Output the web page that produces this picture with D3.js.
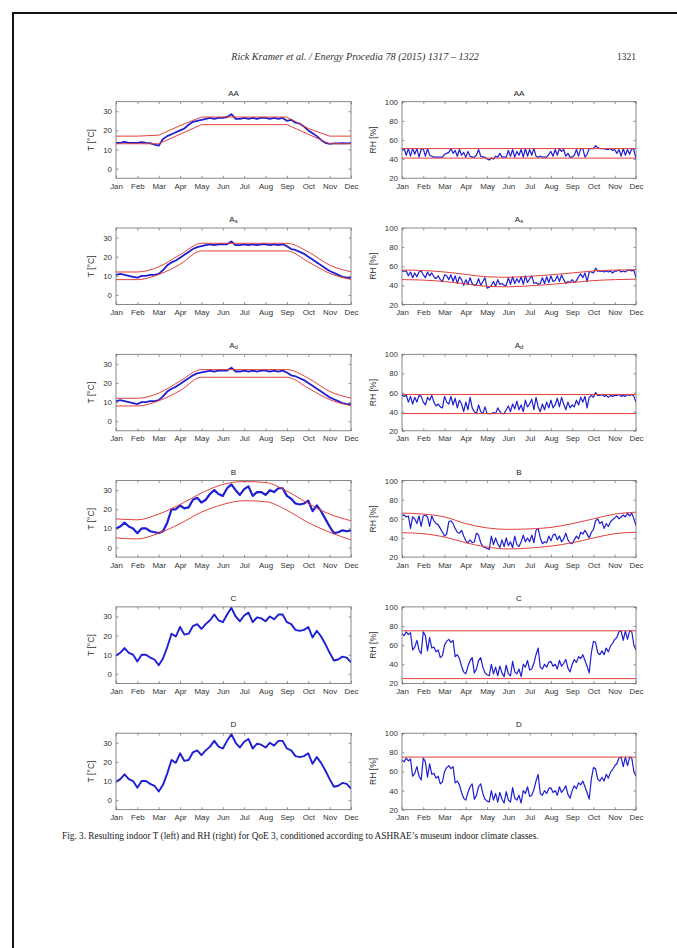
<!DOCTYPE html>
<html><head><meta charset="utf-8">
<script src="https://cdn.jsdelivr.net/npm/d3@7/dist/d3.min.js"></script>
<style>body{margin:0;background:#fff}svg{display:block}</style>
</head><body>
<svg id="c" width="677" height="948"></svg>
<script>
// ---------- tick labels ----------
const months = ["Jan","Feb","Mar","Apr","May","Jun","Jul","Aug","Sep","Oct","Nov","Dec"];
const tTicks = [0,10,20,30];
const rhTicks = [20,40,60,80,100];

// ---------- indoor temperature series (Jan..Dec, evenly spaced) ----------
const aaT = [13.5,13.5,14,13.5,13.5,13.5,13.8,13.5,13.3,12.5, 12,15.5,17,18,19,20,21,23,24.5,25,
  25.5,26,26.5,26,26.5,26.5,27,28.5,26,26, 26.5,26,26.5,26,26.5,26.5,26,26.5,26,26.5,
  25,25.5,24,23.5,22,20,18.5,17,15,13.5, 13,13.2,13.2,13.3,13.2,13.3];
const asT = [10.5,11,10.5,10,9.5,9,10,10,10.5,10.5, 11,13,15.5,17,18,19.5,21,22.5,24,25,
  25.5,26,26.5,26,26.5,26.5,26.5,28,26,26, 26.5,26,26.5,26,26.5,26.5,26,26.5,26,26.5,
  25.5,24,23.5,22.5,21.5,20,18.5,17,15.5,14, 12.5,11.5,10.5,9.5,9,9];
const bT = [10,11,13,11,10,7.5,10,10,8.5,8, 7.5,8.5,13,20,20,22,20.5,21,25,26,
  23.5,25,28,30,28,27,31,33,30,27.5, 30.5,32,27,29,29,27.5,30,29,31,31,
  27,25.5,23,22.5,23,24.5,19,22,19,15, 11,7.5,8,9,8.5,9];
const cT = [9.5,11,13.5,11,10,6.5,10,10,8.5,7.5, 4.5,8,14,21,19.5,24.5,20.5,21,25,26,
  23.5,26,28,31,28,27,31,34.5,30,27.5, 30.5,32,27,29.5,29,27.5,30,28.5,31,31,
  27,26,23,22.5,23,24.5,19,22.5,19.5,15.5, 11,7,7.5,9,8.5,6];

// ---------- indoor relative humidity series ----------
const aaRH = [49,51,44,51,43,51,45,51,42,50, 51,43,51,44,43,42,42,42,42,42,
  45,46,47,51,46,49,43,50,44,47, 42,48,43,42,42,44,50,43,42,42,
  40,39,41,40,43,42,46,42,42,42, 49,43,50,42,48,44,50,42,51,43,
  50,44,51,43,42,43,42,42,42,45, 48,43,50,44,51,48,50,43,46,42,
  42,44,50,43,51,51,42,45,51,51, 51,54,52,51,51,51,50,50,51,49,
  50,46,50,43,51,44,50,45,51,50,40];
const asRH = [55,55,55,50,54,48,53,49,54,55, 51,48,54,50,53,49,47,50,46,44,
  51,50,46,51,44,50,42,49,46,40, 46,41,48,42,40,41,47,40,44,48,
  37,38,40,44,39,46,41,42,40,40, 48,41,49,42,47,43,49,41,50,43,
  47,50,42,43,41,42,48,42,49,43, 50,44,45,50,44,51,46,42,44,43,
  46,43,45,49,52,48,53,44,54,54, 53,58,55,55,55,54,55,54,55,53,
  55,55,56,54,55,54,56,56,55,56,48];
const adRH = [57,56,57,50,56,48,55,50,57,56, 50,47,55,52,57,50,46,48,45,44,
  56,50,48,56,47,54,44,52,48,40, 50,42,55,44,40,38,47,40,38,45,
  38,38,38,39,38,44,40,38,38,42, 46,40,48,43,51,42,47,40,52,45,
  48,53,42,55,45,40,48,42,50,44, 52,44,47,54,45,55,48,42,50,44,
  47,45,52,47,55,50,56,44,55,57, 55,60,57,57,58,56,57,55,57,56,
  57,57,58,56,57,56,58,57,58,56,50];
const bRH = [64,64,62,63,50,62,60,55,63,52, 63,64,62,52,63,58,55,54,50,46,
  42,44,57,58,55,50,46,45,48,42, 37,35,38,35,36,45,43,35,31,30,
  29,28,42,33,40,34,30,38,31,40, 32,36,30,42,33,31,36,43,36,40,
  36,43,35,48,50,40,34,36,35,42, 37,43,44,38,42,36,39,45,38,35,
  34,38,42,39,46,44,48,44,40,46, 49,58,60,55,57,50,55,52,57,59,
  61,63,60,62,64,62,66,63,66,60,53];
const cRH = [72,70,74,71,73,55,58,65,55,51, 74,70,54,68,57,58,53,55,47,49,
  60,64,66,63,65,48,50,46,38,32, 30,38,44,47,31,35,44,47,37,31,
  29,28,40,30,37,28,38,31,27,39, 30,28,43,32,30,35,27,40,37,44,
  34,35,41,50,57,37,35,40,37,42, 43,38,40,35,44,38,41,45,36,32,
  40,45,42,48,46,50,44,38,31,52, 64,63,52,50,54,50,57,53,59,62,
  66,68,74,75,65,75,66,75,74,60,55];

// ---------- ASHRAE class limits (knots evenly spaced Jan..Dec) ----------
const aaTLo = [13,13,13,18,23,23,23,23,23,18,13,13];
const aaTHi = [17,17,17.5,22.5,27,27,27,27,27,21,17,17];
const asTLo = [8,8,10.7,16,23,23,23,23,23,17.3,11.3,8.1];
const asTHi = [12,12,14.7,21,27,27,27,27,27,22.5,15.6,12.1];
const bTLo = [5,4.5,7.5,12.5,18.5,22.5,24.5,24,19.5,13,8,4];
const bTHi = [15,14.5,17.5,22.5,28.5,33,34.5,34,29.5,23,17.5,14];
const aaRHHi = [51,51], aaRHLo = [41,41];
const asRHHi = [56,55.5,54,51.5,49,48.5,49.5,51,53,55,56,56.5];
const asRHLo = [46,45.5,44,41.5,39,38.5,39.5,41,43,45,46,46.5];
const adRHHi = [58,58], adRHLo = [38,38];
const bRHHi = [66,65,62,55,50.5,49,49.5,51,55,60,65,67];
const bRHLo = [45.5,44.5,41,35,30.5,28.5,29.5,31.5,35,40,44.5,46];
const cRHHi = [75,75], cRHLo = [25,25];
const dRHHi = [75,75];

const titles = [["A","A"],["A","s"],["A","d"],["B",""],["C",""],["D",""]];

// ---------- panel table ----------
const TD = [-5,35], RD = [20,100];
const lin = d3.curveLinear, smooth = d3.curveMonotoneX;
const rows = [
  {t:{s:aaT, b:[aaTLo,aaTHi], c:lin, w:1.8}, r:{s:aaRH, b:[aaRHLo,aaRHHi], c:lin, w:1.2}},
  {t:{s:asT, b:[asTLo,asTHi], c:smooth, w:1.8}, r:{s:asRH, b:[asRHLo,asRHHi], c:smooth, w:1.2}},
  {t:{s:asT, b:[asTLo,asTHi], c:smooth, w:1.8}, r:{s:adRH, b:[adRHLo,adRHHi], c:lin, w:1.2}},
  {t:{s:bT, b:[bTLo,bTHi], c:smooth, w:2.2}, r:{s:bRH, b:[bRHLo,bRHHi], c:smooth, w:1.2}},
  {t:{s:cT, b:[], c:lin, w:1.9}, r:{s:cRH, b:[cRHLo,cRHHi], c:lin, w:1.2}},
  {t:{s:cT, b:[], c:lin, w:1.9}, r:{s:cRH, b:[dRHHi], c:lin, w:1.2}}
];

const svg = d3.select("#c");
svg.append("rect").attr("width",677).attr("height",948).attr("fill","#fff");
svg.append("path").attr("d","M13,948V13H677").attr("fill","none").attr("stroke","#111").attr("stroke-width",2);

svg.append("text").attr("x",355).attr("y",60).attr("text-anchor","middle")
  .style("font","italic 10.2px 'Liberation Serif'").attr("fill","#333")
  .text("Rick Kramer et al. / Energy Procedia 78 (2015) 1317 – 1322");
svg.append("text").attr("x",636).attr("y",60).attr("text-anchor","end")
  .style("font","9.5px 'Liberation Serif'").attr("fill","#333").text("1321");

const colX = [[116,351],[402,636]];
const BLUE = "#1e1ed2", RED = "#e2403c", AX = "#6a6a6a", TXT = "#333";

function panel(cfg, col, row, domain, ticks, ylab){
  const [x0,x1] = colX[col];
  const top = 101.7 + 126.3*row, bot = top + 76.5;
  const x = d3.scaleLinear().domain([0,11]).range([x0,x1]);
  const y = d3.scaleLinear().domain(domain).range([bot,top]);
  const g = svg.append("g");
  const id = `clip${row}_${col}`;
  g.append("clipPath").attr("id",id).append("rect")
    .attr("x",x0).attr("y",top).attr("width",x1-x0).attr("height",bot-top);
  const plot = g.append("g").attr("clip-path",`url(#${id})`);
  const n = cfg.s.length;
  plot.append("path").datum(cfg.s)
    .attr("d", d3.line().x((d,i)=>x(i*11/(n-1))).y(d=>y(d)))
    .attr("fill","none").attr("stroke",BLUE).attr("stroke-width",cfg.w).attr("stroke-linejoin","round");
  cfg.b.forEach(b=>{
    const k = b.length;
    plot.append("path").datum(b)
      .attr("d", d3.line().x((d,i)=>x(i*11/(k-1))).y(d=>y(d)).curve(cfg.c))
      .attr("fill","none").attr("stroke",RED).attr("stroke-width",1);
  });
  const style = sel => {
    sel.select(".domain").remove();
    sel.selectAll("line").attr("stroke",AX).attr("stroke-width",0.7);
    sel.selectAll("text").attr("fill",TXT).style("font","7.9px 'Liberation Sans', Arial, sans-serif");
  };
  g.append("g").attr("transform",`translate(0,${bot})`)
    .call(d3.axisBottom(x).tickValues(d3.range(12)).tickFormat(i=>months[i]).tickSizeInner(-2.5).tickSizeOuter(0).tickPadding(5)).call(style);
  g.append("g").attr("transform",`translate(0,${top})`)
    .call(d3.axisTop(x).tickValues(d3.range(12)).tickFormat(()=>"").tickSizeInner(-2.5).tickSizeOuter(0)).call(style);
  g.append("g").attr("transform",`translate(${x0},0)`)
    .call(d3.axisLeft(y).tickValues(ticks).tickSizeInner(-2.5).tickSizeOuter(0).tickPadding(4)).call(style);
  g.append("g").attr("transform",`translate(${x1},0)`)
    .call(d3.axisRight(y).tickValues(ticks).tickFormat(()=>"").tickSizeInner(-2.5).tickSizeOuter(0)).call(style);
  g.append("rect").attr("x",x0).attr("y",top).attr("width",x1-x0).attr("height",bot-top)
    .attr("fill","none").attr("stroke",AX).attr("stroke-width",0.8);
  // title
  const tt = g.append("text").attr("x",(x0+x1)/2).attr("y",top-6).attr("text-anchor","middle")
    .attr("fill","#222").style("font","8px 'Liberation Sans', Arial, sans-serif");
  const [a,s] = titles[row];
  if (s === "A") tt.text("AA");
  else { tt.append("tspan").text(a); if (s) tt.append("tspan").attr("font-size","6px").attr("dy","0.5").text(s); }
  // y label
  const lx = col===0 ? x0-22 : x0-26;
  g.append("text").attr("transform",`translate(${lx},${(top+bot)/2}) rotate(-90)`)
    .attr("text-anchor","middle").attr("fill",TXT)
    .style("font","8.6px 'Liberation Sans', Arial, sans-serif").text(ylab);
}

rows.forEach((r,i)=>{
  panel(r.t, 0, i, TD, tTicks, "T [°C]");
  panel(r.r, 1, i, RD, rhTicks, "RH [%]");
});

svg.append("text").attr("x",62).attr("y",839)
  .style("font","9.3px 'Liberation Serif'").attr("fill","#222")
  .text("Fig. 3. Resulting indoor T (left) and RH (right) for QoE 3, conditioned according to ASHRAE’s museum indoor climate classes.");
</script>
</body></html>
